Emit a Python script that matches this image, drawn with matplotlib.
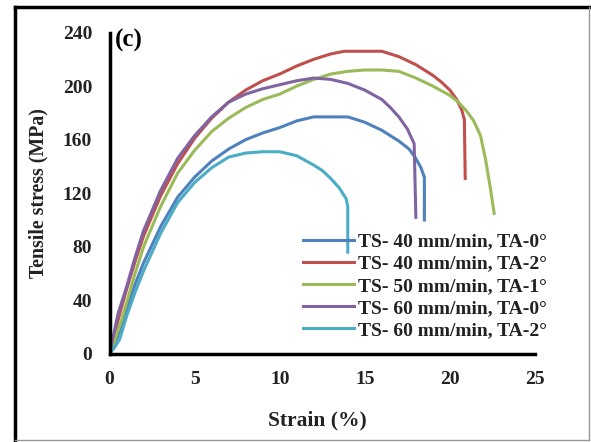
import matplotlib
matplotlib.use("Agg")
import matplotlib.pyplot as plt
from matplotlib.lines import Line2D

plt.rcParams['font.family'] = ['Liberation Serif', 'DejaVu Serif']
plt.rcParams['font.weight'] = 'bold'

# strain (%) / stress (MPa)
blue_x = [0, 0.3, 0.7, 1, 1.5, 2, 3, 4, 5, 6, 7, 8, 9, 10, 11, 12, 13, 14, 15, 16, 17, 17.6, 18.0, 18.3, 18.5, 18.5]
blue_y = [0, 8, 20, 33, 52, 68, 95, 117, 132, 144, 153, 160, 165, 169, 174, 177, 177, 177, 173, 167, 159, 153, 146, 139, 132, 100]

red_x = [0, 0.3, 0.6, 1, 1.5, 2, 3, 4, 5, 6, 7, 8, 9, 10, 11, 12, 13, 13.8, 15, 16, 17, 18, 19, 19.5, 20, 20.4, 20.7, 20.85, 20.9]
red_y = [0, 15, 30, 48, 69, 88, 118, 142, 161, 176, 188, 197, 204, 209, 215, 220, 224, 226, 226, 226, 222, 216, 208, 203, 197, 190, 182, 175, 131]

green_x = [0, 0.3, 0.7, 1, 1.5, 2, 3, 4, 5, 6, 7, 8, 9, 10, 11, 12, 13, 14, 15, 16, 17, 18, 19, 20, 20.5, 21, 21.4, 21.8, 22.1, 22.4, 22.6]
green_y = [0, 10, 25, 38, 60, 80, 110, 135, 152, 166, 176, 184, 190, 194, 200, 205, 209, 211, 212, 212, 211, 206, 200, 193, 188, 181, 174, 163, 145, 122, 105]

purple_x = [0, 0.2, 0.5, 1, 1.5, 2, 3, 4, 5, 6, 7, 8, 9, 10, 11, 12, 13, 14, 15, 16, 16.5, 17, 17.5, 17.9, 18.0]
purple_y = [0, 12, 30, 50, 72, 92, 122, 146, 163, 177, 188, 194, 198, 201, 204, 206, 205, 202, 197, 190, 184, 177, 168, 157, 102]

cyan_x = [0, 0.3, 0.6, 1, 1.5, 2, 3, 4, 5, 6, 7, 8, 9, 10, 11, 12, 12.5, 13, 13.5, 13.9, 14, 14]
cyan_y = [0, 5, 11, 28, 46, 62, 90, 113, 128, 139, 147, 150, 151, 151, 148, 141, 137, 131, 124, 116, 110, 76]

labels = ['TS- 40 mm/min, TA-0°', 'TS- 40 mm/min, TA-2°', 'TS- 50 mm/min, TA-1°',
          'TS- 60 mm/min, TA-0°', 'TS- 60 mm/min, TA-2°']
colors = ['#4F81BD', '#C0504D', '#9BBB59', '#8064A2', '#4BACC6']

W, H = 591, 442
fig = plt.figure(figsize=(W / 100, H / 100), dpi=100)
x0, x1, y0, y1 = 109.5, 535, 354, 32.5
ax = fig.add_axes([x0 / W, 1 - y0 / H, (x1 - x0) / W, (y0 - y1) / H])

series = [(blue_x, blue_y), (red_x, red_y), (green_x, green_y), (purple_x, purple_y), (cyan_x, cyan_y)]
for (xs, ys), c, lab in zip(series, colors, labels):
    ax.plot(xs, ys, color=c, lw=2.2, label=lab, solid_joinstyle='round')

ax.set_xlim(0, 25)
ax.set_ylim(0, 240)
ax.set_xticks([0, 5, 10, 15, 20, 25])
ax.set_yticks([0, 40, 80, 120, 160, 200, 240])
ax.spines['top'].set_visible(False)
ax.spines['right'].set_visible(False)
ax.spines['left'].set_linewidth(2.5)
ax.spines['bottom'].set_linewidth(2.5)
ax.tick_params(axis='both', length=0, labelsize=14, colors='#222222')
ax.tick_params(axis='y', pad=12.5)
ax.tick_params(axis='x', pad=12.5)
for t in ax.get_xticklabels() + ax.get_yticklabels():
    t.set_fontweight('bold')

ax.set_xlabel('Strain (%)', fontsize=15.5, fontweight='bold', color='#222222')
ax.set_ylabel('Tensile stress (MPa)', fontsize=14.3, fontweight='bold', color='#222222')
ax.xaxis.set_label_coords((317.5 - x0) / (x1 - x0), -(420 - y0) / (y0 - y1))
ax.xaxis.label.set_va('center')
ax.yaxis.set_label_coords(-(x0 - 38) / (x1 - x0), 0.5)
ax.yaxis.label.set_va('center')
ax.text((115 - x0) / (x1 - x0), 1 + 4 / (y0 - y1), '(c)', transform=ax.transAxes, fontsize=18,
        fontweight='bold', va='top', ha='left')

leg = ax.legend(loc='upper left', bbox_to_anchor=(303 / W, 1 - 233 / H), bbox_transform=fig.transFigure,
                frameon=False, fontsize=14, handlelength=2.6, handletextpad=0.25,
                labelspacing=0.23, borderaxespad=0, borderpad=0)
for t in leg.get_texts():
    t.set_fontweight('bold')
    t.set_color('#222222')

# outer frame
fig.add_artist(Line2D([15 / W, 589 / W], [1 - 7 / H, 1 - 7 / H], color='black', lw=2.5, transform=fig.transFigure))
fig.add_artist(Line2D([15 / W, 15 / W], [1 - 7 / H, 1 - 440 / H], color='black', lw=2.5, transform=fig.transFigure))
fig.add_artist(Line2D([589 / W, 589 / W], [1 - 7 / H, 1 - 440 / H], color='#999999', lw=1, transform=fig.transFigure))
fig.add_artist(Line2D([15 / W, 589 / W], [1 - 440 / H, 1 - 440 / H], color='#999999', lw=1, transform=fig.transFigure))

fig.savefig('out.png', dpi=100)
